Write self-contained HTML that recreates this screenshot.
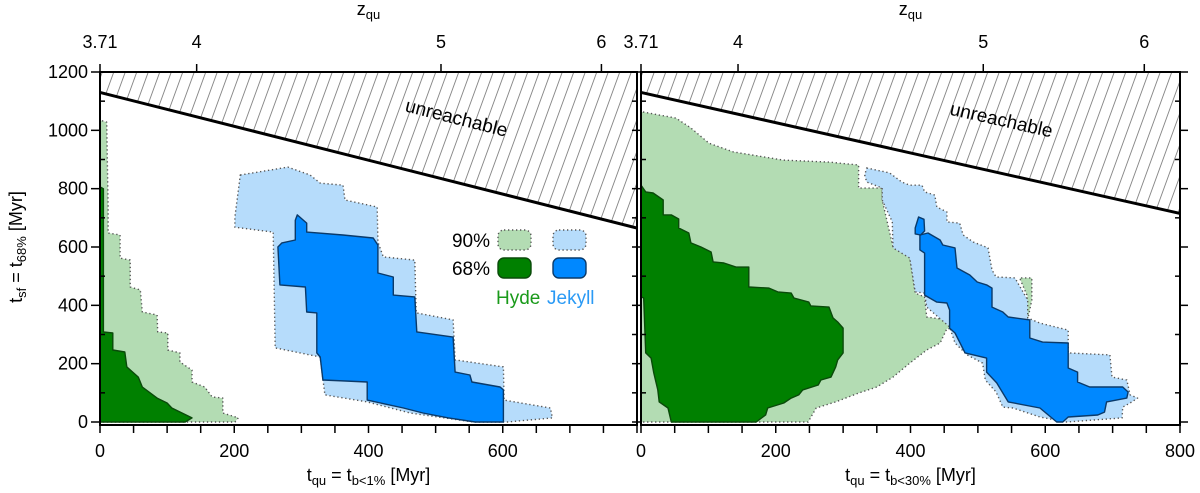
<!DOCTYPE html>
<html><head><meta charset="utf-8"><style>
html,body{margin:0;padding:0;background:#fff;}
svg{display:block;font-family:"Liberation Sans",Arial,sans-serif;}
</style></head><body>
<svg id="chart" width="1200" height="493" viewBox="0 0 1200 493" xmlns="http://www.w3.org/2000/svg">
<defs>
<pattern id="hatch" patternUnits="userSpaceOnUse" width="11.5" height="30" patternTransform="skewX(-20)">
<line x1="2" y1="0" x2="2" y2="30" stroke="#888" stroke-width="1"/>
</pattern>
</defs>
</svg>
<script>
// ---- data ----
const yTicks = [0,200,400,600,800,1000,1200];
const xTicksLeft = [0,200,400,600];
const xTicksRight = [0,200,400,600,800];
const zLabels = ["3.71","4","5","6"];
const zTickT = [0,144,508,747];
const limitLeft = [1130,665];
const limitRight = [1130,715];
const hyde90Left = [[0,0],[0,1035],[10,1028],[12,744],[12,648],[30,641],[30,562],[45,555],[45,463],[60,453],[63,377],[85,367],[86,309],[101,305],[101,247],[119,237],[119,206],[137,178],[137,137],[156,120],[167,86],[183,82],[183,31],[206,14],[201,0]];
const hyde68Left = [[0,0],[0,806],[5,800],[5,309],[19,305],[19,247],[37,240],[40,189],[57,154],[63,120],[85,82],[100,65],[107,48],[137,14],[127,0]];
const jekyll90Left = [[209,847],[280,874],[313,847],[328,819],[362,812],[365,761],[413,737],[414,617],[422,566],[469,555],[471,374],[526,350],[529,213],[601,189],[602,75],[671,48],[674,14],[607,0],[556,0],[462,31],[398,69],[335,93],[328,223],[261,254],[258,651],[201,668],[201,703]];
const jekyll68Left = [[294,710],[308,682],[308,651],[362,641],[407,631],[414,607],[414,511],[437,497],[437,435],[469,429],[472,309],[526,291],[529,171],[551,161],[554,137],[596,120],[601,110],[601,0],[559,0],[519,14],[481,31],[452,48],[398,75],[398,137],[332,144],[328,223],[323,237],[323,374],[308,377],[306,463],[268,470],[265,600],[271,614],[291,624],[291,692]];
const hyde90Right = [[0,0],[0,1063],[3,1063],[52,1042],[74,1008],[101,956],[137,926],[211,898],[279,891],[323,881],[323,802],[358,802],[358,761],[374,600],[399,566],[407,442],[421,429],[424,360],[454,350],[463,326],[558,326],[574,429],[562,494],[580,494],[580,418],[572,330],[454,320],[444,271],[424,247],[399,202],[374,154],[350,120],[323,99],[289,69],[260,48],[248,0]];
const hyde68Right = [[0,429],[0,812],[7,789],[18,785],[33,761],[33,710],[45,710],[56,696],[56,665],[71,648],[74,614],[89,600],[104,583],[107,549],[123,545],[141,531],[160,531],[160,463],[190,459],[203,446],[223,442],[227,425],[249,411],[252,398],[279,394],[285,357],[292,343],[300,322],[300,237],[292,213],[289,189],[282,154],[267,144],[263,127],[240,110],[234,93],[223,82],[212,65],[188,48],[185,24],[171,0],[45,0],[40,48],[27,69],[25,110],[19,168],[15,219],[7,237],[4,425]];
const jekyll90Right = [[335,871],[369,854],[387,823],[399,812],[417,812],[421,789],[436,778],[439,737],[454,720],[454,686],[473,682],[478,641],[493,617],[515,597],[521,521],[527,497],[555,494],[574,418],[574,357],[592,339],[634,315],[634,237],[696,230],[699,154],[721,144],[726,93],[737,82],[726,65],[715,51],[714,14],[632,0],[592,17],[552,48],[537,51],[527,103],[511,144],[507,202],[484,230],[466,271],[458,326],[424,394],[421,442],[407,446],[399,562],[374,597],[373,686],[358,761],[358,802],[335,823],[332,847]];
const jekyll68RightBlob = [[407,665],[412,703],[420,695],[421,655],[415,641],[407,645]];
const jekyll68Right = [[414,641],[426,648],[444,624],[448,607],[466,597],[469,528],[488,504],[499,480],[513,470],[521,459],[521,394],[537,377],[545,360],[577,350],[577,288],[596,274],[634,271],[634,185],[648,171],[648,137],[666,120],[715,120],[723,103],[721,82],[691,69],[688,34],[678,24],[634,17],[626,0],[617,0],[592,48],[545,69],[528,134],[513,171],[513,219],[481,237],[466,305],[458,322],[458,384],[454,408],[439,411],[421,435],[421,579],[414,590]];

// ---- layout ----
const svg = document.getElementById('chart');
const NS = 'http://www.w3.org/2000/svg';
const yTop = 72, yBot = 422;
const yS = v => yBot - v*(yBot-yTop)/1200;
function mk(tag, attrs, parent){
  const e = document.createElementNS(NS, tag);
  for (const k in attrs) e.setAttribute(k, attrs[k]);
  (parent||svg).appendChild(e);
  return e;
}
const panels = [
  {name:'left', x0:100, x1:637, ticks:xTicksLeft, limit:limitLeft, sub:'b<1%',
   h90:[hyde90Left], h68:[hyde68Left], j90:[jekyll90Left], j68:[jekyll68Left], label:[455,124]},
  {name:'right', x0:641, x1:1180, ticks:xTicksRight, limit:limitRight, sub:'b<30%',
   h90:[hyde90Right], h68:[hyde68Right], j90:[jekyll90Right], j68:[jekyll68Right, jekyll68RightBlob], label:[1000,126]}
];
panels.forEach((p, pi) => {
  const xS = t => p.x0 + t*(p.x1-p.x0)/800;
  const g = mk('g', {});
  
  
  const hatch = mk('polygon', {points:`${p.x0},${yTop} ${p.x1},${yTop} ${p.x1},${yS(p.limit[1])} ${p.x0},${yS(p.limit[0])}`, fill:'url(#hatch)'}, g);
  
  
  const pts = arr => arr.map(d => xS(d[0]).toFixed(1)+','+yS(d[1]).toFixed(1)).join(' ');
  const layers = [
    [p.h90, '#b3dcb3', '#555', '1.3,2.7', 'hyde-90-contour'],
    [p.j90, '#b6dcfb', '#555', '1.3,2.7', 'jekyll-90-contour'],
    [p.h68, '#008000', '#0a4a0a', '', 'hyde-68-contour'],
    [p.j68, '#0088ff', '#0a3a6a', '', 'jekyll-68-contour']
  ];
  layers.forEach(L => {
    L[0].forEach(arr => {
      const e = mk('polygon', {points:pts(arr), fill:L[1], stroke:L[2], 'stroke-width':1.4, 'stroke-dasharray':L[3], 'stroke-linejoin':'round'}, g);
      
      
    });
  });
  const ll = mk('line', {x1:p.x0, y1:yS(p.limit[0]), x2:p.x1, y2:yS(p.limit[1]), stroke:'#000', 'stroke-width':3}, g);
  
  
  const ang = Math.atan2(yS(p.limit[1])-yS(p.limit[0]), p.x1-p.x0)*180/Math.PI;
  const ut = mk('text', {x:p.label[0], y:p.label[1], 'font-size':19, 'text-anchor':'middle', transform:`rotate(${ang.toFixed(1)} ${p.label[0]} ${p.label[1]})`, fill:'#000'}, g);
  ut.textContent = 'unreachable';
  
  
  const fr = mk('rect', {x:p.x0, y:yTop, width:p.x1-p.x0, height:425-yTop, fill:'none', stroke:'#000', 'stroke-width':2}, g);
  
  
  for (let v=0; v<=1200; v+=100) {
    const major = v%200===0;
    const t1 = mk('line', {x1:p.x0-(major?9:0), x2:p.x0+(major?0:5), y1:yS(v), y2:yS(v), stroke:'#000', 'stroke-width':1.5}, g);
    
    
    const t2 = mk('line', {x1:p.x1-(major?0:5), x2:p.x1+(major&&pi===1?8:0), y1:yS(v), y2:yS(v), stroke:'#000', 'stroke-width':1.5}, g);
    
    
  }
  if (pi===0) {
    yTicks.forEach(v => {
      const t = mk('text', {x:p.x0-12, y:yS(v)+6, 'font-size':18, 'text-anchor':'end'}, g);
      t.textContent = v;
      
      
    });
  }
  for (let t=0; t<=800; t+=50) {
    if (xS(t) > p.x1+0.5) break;
    const e = mk('line', {x1:xS(t), x2:xS(t), y1:425, y2:433, stroke:'#000', 'stroke-width':1.5}, g);
    
    
  }
  p.ticks.forEach(t => {
    const e = mk('text', {x:xS(t), y:457, 'font-size':18, 'text-anchor':'middle'}, g);
    e.textContent = t;
    
    
  });
  zTickT.forEach((t, i) => {
    const e = mk('line', {x1:xS(t), x2:xS(t), y1:yTop, y2:yTop-8, stroke:'#000', 'stroke-width':1.5}, g);
    
    
    const l = mk('text', {x:xS(t), y:48, 'font-size':18, 'text-anchor':'middle'}, g);
    l.textContent = zLabels[i];
    
    
  });
  const cx = (p.x0+p.x1)/2;
  const zt = mk('text', {x:cx, y:15, 'font-size':18, 'text-anchor':'middle'}, g);
  zt.innerHTML = 'z<tspan font-size="13" dy="4">qu</tspan>';
  
  
  const xt = mk('text', {x:cx, y:481, 'font-size':18, 'text-anchor':'middle'}, g);
  xt.innerHTML = 't<tspan font-size="13" dy="4">qu</tspan><tspan dy="-4"> = t</tspan><tspan font-size="13" dy="4">'+p.sub.replace('<','&lt;')+'</tspan><tspan dy="-4"> [Myr]</tspan>';
  
  
});
const yt = mk('text', {x:0, y:0, 'font-size':18, 'text-anchor':'middle', transform:'translate(22,247) rotate(-90)'});
yt.innerHTML = 't<tspan font-size="13" dy="4">sf</tspan><tspan dy="-4"> = t</tspan><tspan font-size="13" dy="4">68%</tspan><tspan dy="-4"> [Myr]</tspan>';


const lg = mk('g', {});


const sw = [[498,230,'#b3dcb3','#555','1.3,2.7','legend-hyde-90'],[553,230,'#b6dcfb','#555','1.3,2.7','legend-jekyll-90'],[498,258,'#008000','#0a4a0a','','legend-hyde-68'],[553,258,'#0088ff','#0a3a6a','','legend-jekyll-68']];
sw.forEach(s => {
  const r = mk('rect', {x:s[0], y:s[1], width:33, height:20, rx:6, fill:s[2], stroke:s[3], 'stroke-width':1.4, 'stroke-dasharray':s[4]}, lg);
  
  
});
[['90%',247,'legend-90-label'],['68%',275,'legend-68-label']].forEach(a => {
  const t = mk('text', {x:490, y:a[1], 'font-size':19, 'text-anchor':'end'}, lg);
  t.textContent = a[0];
  
  
});
const hy = mk('text', {x:496, y:304, 'font-size':19, fill:'#1a9a1a'}, lg);
hy.textContent = 'Hyde';


const jk = mk('text', {x:547, y:304, 'font-size':19, fill:'#2a9af5'}, lg);
jk.textContent = 'Jekyll';


</script>
</body></html>
